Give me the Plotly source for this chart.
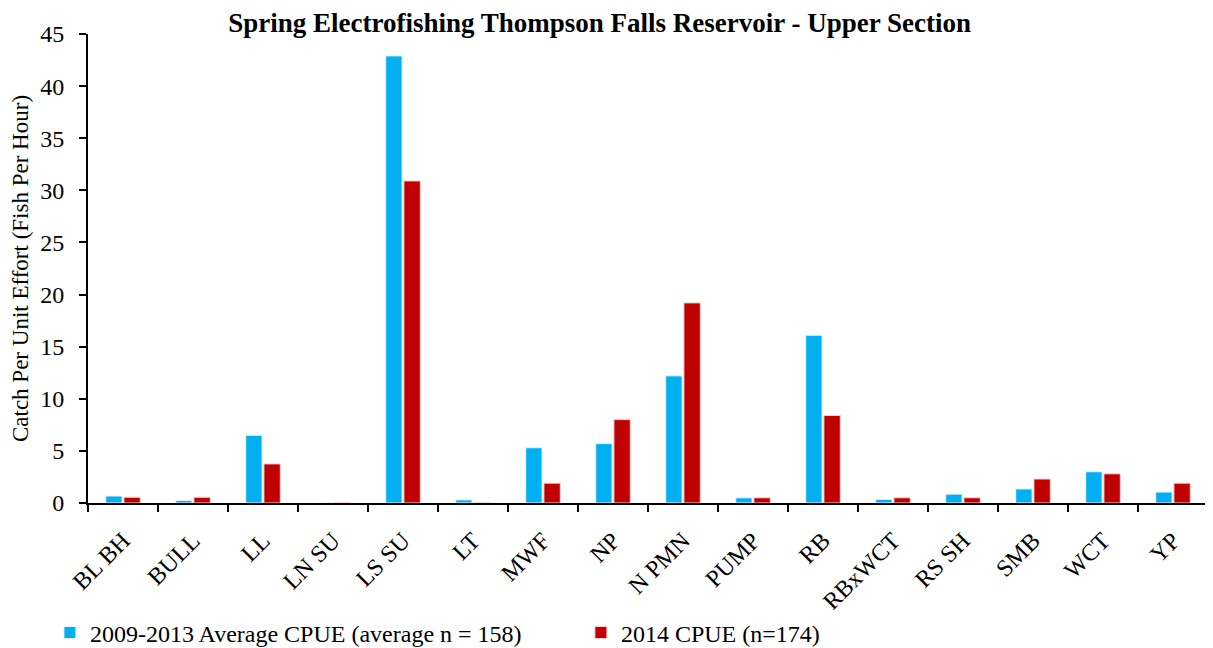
import plotly.graph_objects as go

categories = ["BL BH", "BULL", "LL", "LN SU", "LS SU", "LT", "MWF", "NP", "N PMN",
              "PUMP", "RB", "RBxWCT", "RS SH", "SMB", "WCT", "YP"]
avg_2009_2013 = [0.67, 0.25, 6.5, 0, 42.9, 0.3, 5.3, 5.7, 12.2, 0.5, 16.1, 0.35, 0.85, 1.35, 3.0, 1.05]
cpue_2014 = [0.55, 0.55, 3.75, 0, 30.9, 0, 1.9, 8.0, 19.2, 0.5, 8.4, 0.5, 0.5, 2.3, 2.8, 1.9]
y_ticks = [0, 5, 10, 15, 20, 25, 30, 35, 40, 45]

font_family = "Liberation Serif, Times New Roman, serif"

fig = go.Figure()
fig.add_trace(go.Bar(x=categories, y=avg_2009_2013,
                     name="2009-2013 Average CPUE (average n = 158)",
                     marker=dict(color="#00B0F0", line=dict(color="#E8F6FD", width=1))))
fig.add_trace(go.Bar(x=categories, y=cpue_2014,
                     name="2014 CPUE (n=174)",
                     marker=dict(color="#C00000", line=dict(color="#F2D0D0", width=1))))

fig.update_layout(
    width=1205, height=640,
    margin=dict(l=80, r=5, t=26, b=145, autoexpand=False),
    paper_bgcolor="white", plot_bgcolor="white",
    font=dict(family=font_family, size=22, color="black"),
    title=dict(text="<b>Spring Electrofishing Thompson Falls Reservoir - Upper Section</b>",
               x=0.491, xanchor="center", y=0.978, yanchor="middle",
               font=dict(size=27, family=font_family)),
    barmode="group", bargap=0.48, bargroupgap=0.1,
    showlegend=True,
    legend=dict(orientation="h", x=-0.034, xanchor="left", y=-0.277, yanchor="middle",
                font=dict(size=24, family=font_family), entrywidth=486, entrywidthmode="pixels",
                itemwidth=30, tracegroupgap=0),
)
fig.update_xaxes(showline=True, linecolor="black", linewidth=2, ticks="outside",
                 tickson="boundaries", ticklen=7, tickwidth=2, tickcolor="black",
                 tickangle=-45, tickfont=dict(size=24), showgrid=False, zeroline=False,
                 automargin=False, ticklabelstandoff=12)
fig.update_yaxes(range=[0, 45], tickvals=y_ticks, showline=True, linecolor="black", linewidth=2,
                 ticks="outside", ticklen=7, tickwidth=2, tickcolor="black", showgrid=False,
                 zeroline=False, tickfont=dict(size=24), automargin=False, ticklabelstandoff=10,
                 title=dict(text="Catch Per Unit Effort (Fish Per Hour)", font=dict(size=23), standoff=7))

fig.write_html("out.html")
